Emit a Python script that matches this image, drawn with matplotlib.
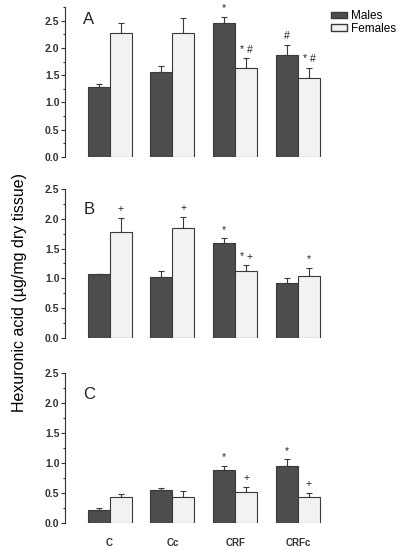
import numpy as np
import matplotlib
matplotlib.use("Agg")
import matplotlib.pyplot as plt
from matplotlib.patches import Patch

plt.rcParams['font.family'] = ['Liberation Sans', 'DejaVu Sans']

groups = ["C", "Cc", "CRF", "CRFc"]

# panel A
a_males = [1.28, 1.55, 2.46, 1.87]
a_males_err = [0.05, 0.12, 0.11, 0.19]
a_females = [2.27, 2.28, 1.63, 1.45]
a_females_err = [0.19, 0.26, 0.18, 0.19]
a_males_marks = ["", "", "*", "#"]
a_females_marks = ["", "", "* #", "* #"]

# panel B
b_males = [1.07, 1.02, 1.59, 0.92]
b_males_err = [0.01, 0.11, 0.08, 0.09]
b_females = [1.78, 1.85, 1.12, 1.04]
b_females_err = [0.24, 0.18, 0.10, 0.14]
b_males_marks = ["", "", "*", ""]
b_females_marks = ["+", "+", "* +", "*"]

# panel C
c_males = [0.21, 0.55, 0.88, 0.95]
c_males_err = [0.04, 0.03, 0.07, 0.11]
c_females = [0.44, 0.44, 0.51, 0.44]
c_females_err = [0.05, 0.09, 0.09, 0.06]
c_males_marks = ["", "", "*", "*"]
c_females_marks = ["", "", "+", "+"]

dark = "#4d4d4d"
light = "#f2f2f2"
edge = "#3a3a3a"

fig = plt.figure(figsize=(4, 5.52), dpi=100)

panels = [
    ("A", [0.1625, 0.7156, 0.6875, 0.2717], 2.75,
     a_males, a_males_err, a_females, a_females_err, a_males_marks, a_females_marks),
    ("B", [0.1625, 0.3877, 0.6875, 0.2700], 2.5,
     b_males, b_males_err, b_females, b_females_err, b_males_marks, b_females_marks),
    ("C", [0.1625, 0.0525, 0.6875, 0.2717], 2.5,
     c_males, c_males_err, c_females, c_females_err, c_males_marks, c_females_marks),
]

x = np.arange(len(groups))
w = 0.35

for name, rect, ytop, m, me, f, fe, mm, fm in panels:
    ax = fig.add_axes(rect)
    ax.bar(x - w / 2, m, w, color=dark, edgecolor=edge, linewidth=0.8, zorder=2)
    ax.bar(x + w / 2, f, w, color=light, edgecolor=edge, linewidth=0.8, zorder=2)
    ax.errorbar(x - w / 2, m, yerr=[np.zeros(4), me], fmt="none", ecolor=edge,
                elinewidth=0.8, capsize=2.5, capthick=0.8, zorder=1)
    ax.errorbar(x + w / 2, f, yerr=[np.zeros(4), fe], fmt="none", ecolor=edge,
                elinewidth=0.8, capsize=2.5, capthick=0.8, zorder=1)
    for i in range(len(groups)):
        if mm[i]:
            ax.text(x[i] - w / 2, m[i] + me[i] + 0.06, mm[i], ha="center", va="bottom",
                    fontsize=7.5, color="#222222")
        if fm[i]:
            ax.text(x[i] + w / 2, f[i] + fe[i] + 0.06, fm[i], ha="center", va="bottom",
                    fontsize=7.5, color="#222222")

    ax.set_xlim(-0.71, 3.67)
    ax.set_ylim(0, ytop)
    ax.set_yticks([0.0, 0.5, 1.0, 1.5, 2.0, 2.5])
    ax.set_yticklabels(["0.0", "0.5", "1.0", "1.5", "2.0", "2.5"])
    ax.set_yticks(np.arange(0.25, ytop + 0.01, 0.5), minor=True)
    ax.tick_params(axis="y", which="major", length=3, width=0.8, labelsize=7.5,
                   pad=1, colors="#333333")
    ax.tick_params(axis="y", which="minor", length=1.5, width=0.8, colors="#333333")
    for lab in ax.get_yticklabels():
        lab.set_fontweight("bold")
    ax.spines["top"].set_visible(False)
    ax.spines["right"].set_visible(False)
    ax.spines["bottom"].set_visible(False)
    ax.spines["left"].set_color("#333333")
    ax.spines["left"].set_linewidth(0.8)
    if name == "C":
        ax.set_xticks(x)
        ax.set_xticklabels(groups, fontsize=7, fontweight="bold", color="#333333")
        ax.tick_params(axis="x", length=0, pad=11)
    else:
        ax.set_xticks([])
    ax.text(-0.33, ytop * (0.92 if name == "A" else 0.86), name, fontsize=12,
            ha="center", va="center", color="#222222")

fig.text(0.05, 0.47, "Hexuronic acid (\u00b5g/mg dry tissue)", rotation=90,
         ha="center", va="center", fontsize=11.5)

handles = [Patch(facecolor=dark, edgecolor=edge, label="Males"),
           Patch(facecolor=light, edgecolor=edge, label="Females")]
fig.legend(handles=handles, loc="upper left", bbox_to_anchor=(0.815, 0.99),
           frameon=False, fontsize=8.5, handlelength=1.4, handleheight=0.45,
           labelspacing=0.05, handletextpad=0.3, borderaxespad=0)

fig.savefig("out.png", dpi=100)
